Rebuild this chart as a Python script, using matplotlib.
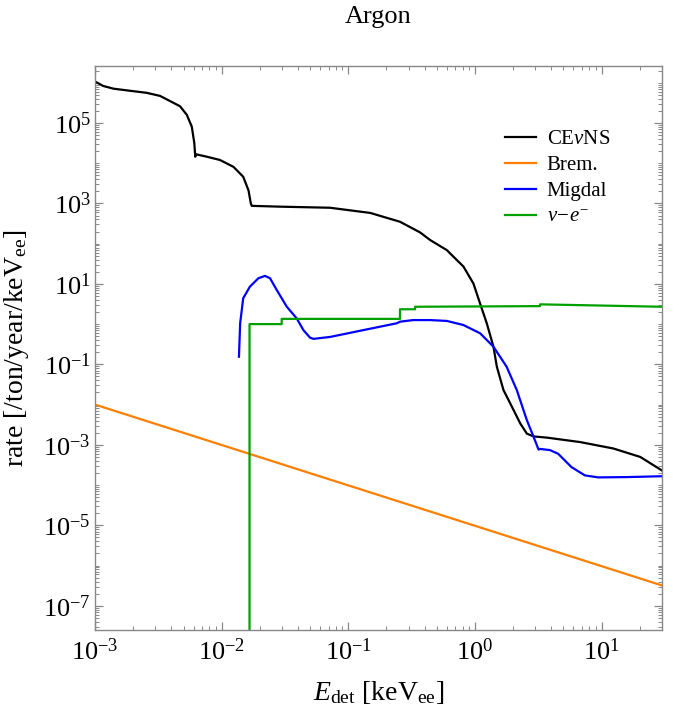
import matplotlib
matplotlib.use("Agg")
import matplotlib.pyplot as plt
import matplotlib.ticker as ticker
import numpy as np

plt.rcParams['font.family'] = 'serif'
plt.rcParams['font.serif'] = ['Liberation Serif', 'DejaVu Serif']
plt.rcParams['mathtext.fontset'] = 'custom'
plt.rcParams['mathtext.rm'] = 'Liberation Serif'
plt.rcParams['mathtext.it'] = 'Liberation Serif:italic'

# CEvNS rate
cevns_E = [1.0e-3, 1.16e-3, 1.40e-3, 1.89e-3, 2.56e-3, 3.26e-3, 3.91e-3, 4.69e-3,
           5.30e-3, 5.81e-3, 6.08e-3, 6.19e-3, 6.28e-3, 7.62e-3, 9.7e-3, 1.24e-2,
           1.48e-2, 1.63e-2, 1.70e-2, 1.73e-2, 2.89e-2, 7.18e-2, 0.149, 0.256, 0.369,
           0.443, 0.600, 0.811, 0.973, 1.10, 1.24, 1.40, 1.49, 1.68, 1.90, 2.28,
           2.57, 2.90, 3.70, 6.78, 12.4, 20.2, 30.0]
cevns_R = [1.07e6, 8.3e5, 7.1e5, 6.3e5, 5.6e5, 4.7e5, 3.5e5, 2.6e5,
           1.6e5, 8.1e4, 3.2e4, 1.45e4, 1.66e4, 1.45e4, 1.2e4, 8.1e3,
           4.6e3, 2.1e3, 1.0e3, 870, 830, 780, 580, 350, 190,
           123, 69, 27, 10.2, 3.2, 1.05, 0.275, 0.087, 0.023, 0.0107, 3.4e-3,
           1.9e-3, 1.62e-3, 1.51e-3, 1.17e-3, 8.1e-4, 5.0e-4, 2.3e-4]

# bremsstrahlung
brem_E = [1.0e-3, 30.0]
brem_R = [1.0e-2, 3.2e-7]

# Migdal
migdal_E = [0.0137, 0.0140, 0.0148, 0.0167, 0.0195, 0.0220, 0.0241, 0.0272,
            0.0327, 0.0392, 0.0442, 0.0499, 0.0530, 0.0718, 0.1315, 0.2415,
            0.2565, 0.325, 0.443, 0.600, 0.811, 1.10, 1.40, 1.78, 2.14, 2.57,
            2.90, 3.18, 3.27, 3.91, 4.54, 5.78, 7.38, 9.4, 16.2, 30.0]
migdal_R = [0.155, 1.05, 4.4, 8.5, 13.8, 15.8, 13.8, 7.1,
            2.7, 1.38, 0.71, 0.46, 0.43, 0.48, 0.71, 1.05,
            1.15, 1.26, 1.26, 1.20, 0.95, 0.59, 0.275, 0.087, 0.023, 4.1e-3,
            1.6e-3, 7.6e-4, 7.9e-4, 7.4e-4, 6.0e-4, 2.8e-4, 1.74e-4, 1.55e-4, 1.58e-4, 1.66e-4]

# neutrino-electron scattering (step edges)
nue_E = [0.0166, 0.0166, 0.0298, 0.0298, 0.256, 0.256, 0.337, 0.337, 3.27, 3.27, 30.0]
nue_R = [1e-9, 1.0, 1.0, 1.35, 1.35, 2.34, 2.34, 2.7, 2.8, 3.1, 2.7]

fig = plt.figure(figsize=(6.75, 7.09), dpi=100)
ax = fig.add_axes([95/675, 1-630/709, (662-95)/675, (630-66)/709])

ax.loglog(cevns_E, cevns_R, color='black', lw=1.6, label=r'CE$\nu$NS')
ax.loglog(brem_E, brem_R, color='#ff7f00', lw=1.6, label='Brem.')
ax.loglog(migdal_E, migdal_R, color='#0000ff', lw=1.6, label='Migdal')
ax.loglog(nue_E, nue_R, color='#00a000', lw=1.6, label=r'$\nu\!-\!e^{-}$')

ax.set_xlim(1e-3, 30)
ax.set_ylim(2.5e-8, 2.6e6)

ax.xaxis.set_major_locator(ticker.LogLocator(base=10, numticks=20))
ax.xaxis.set_minor_locator(ticker.LogLocator(base=10, subs=np.arange(2, 10), numticks=50))
ax.yaxis.set_major_locator(ticker.FixedLocator([10.0**k for k in range(-7, 7, 2)]))
ax.yaxis.set_minor_locator(ticker.LogLocator(base=10, subs=np.arange(1, 10), numticks=50))
ax.yaxis.set_major_formatter(ticker.LogFormatterSciNotation())
ax.xaxis.set_minor_formatter(ticker.NullFormatter())
ax.yaxis.set_minor_formatter(ticker.NullFormatter())

ax.tick_params(which='both', direction='in', top=True, right=True, colors='#888888',
               labelcolor='black', labelsize=19)
ax.tick_params(which='major', length=6, width=0.9)
ax.tick_params(which='minor', length=3, width=0.7)
ax.tick_params(axis='x', which='major', pad=6)
ax.tick_params(axis='y', which='major', pad=3)
for s in ax.spines.values():
    s.set_color('#888888')
    s.set_linewidth(1.0)

ax.set_xlabel(r'$E_{\rm det}$ [keV$_{\rm ee}$]', fontsize=20, va='center')
ax.xaxis.set_label_coords(0.5, (630-692)/564)
ax.set_ylabel(r'rate [/ton/year/keV$_{\rm ee}$]', fontsize=20, va='center')
ax.yaxis.set_label_coords((17-95)/567, 0.5)
fig.text(378.5/675, 1-17/709, 'Argon', ha='center', va='center', fontsize=19)

ax.legend(loc='upper left', bbox_to_anchor=(0.69, 0.92), frameon=False, fontsize=15,
          handlelength=1.5, handletextpad=0.5, labelspacing=0.3)

fig.savefig('out.png', dpi=100)
